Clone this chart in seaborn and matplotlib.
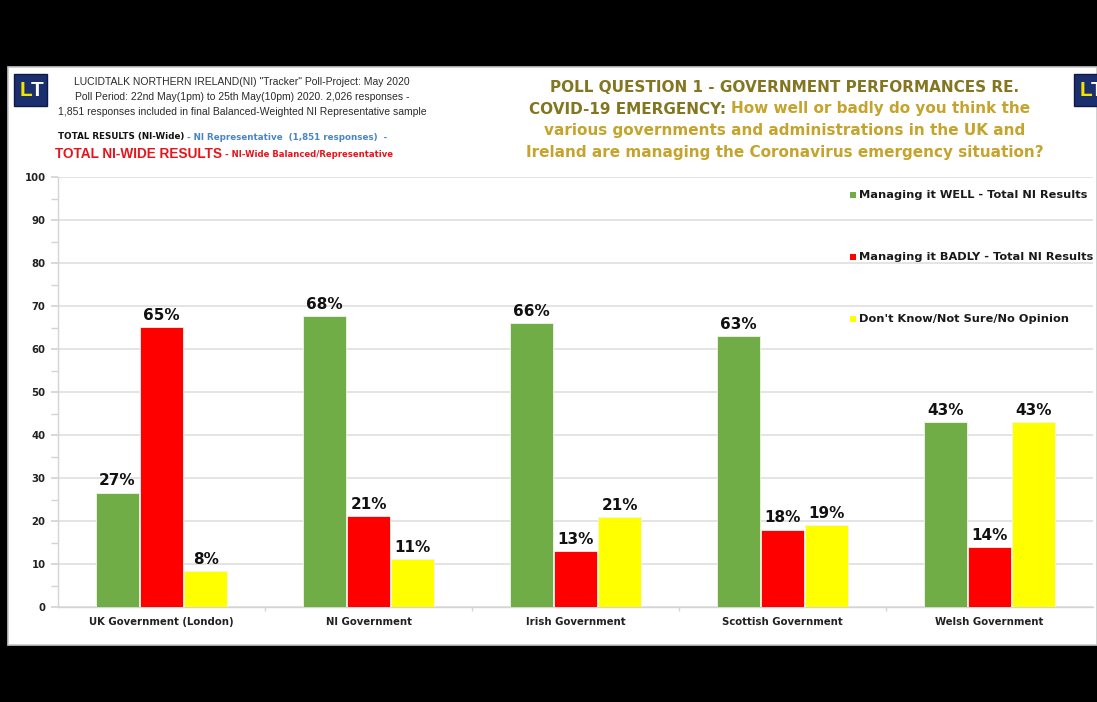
import matplotlib
matplotlib.use("Agg")
import matplotlib.pyplot as plt
from matplotlib.patches import Rectangle
import seaborn as sns
import pandas as pd
import numpy as np

categories = ["UK Government (London)", "NI Government", "Irish Government",
              "Scottish Government", "Welsh Government"]
series_names = ["Managing it WELL - Total NI Results",
                "Managing it BADLY - Total NI Results",
                "Don't Know/Not Sure/No Opinion"]
well = [26.6, 67.6, 66.0, 63.0, 43.0]
badly = [65.1, 21.1, 13.0, 18.0, 14.0]
dont_know = [8.3, 11.2, 21.0, 19.0, 43.0]
colors = ["#70AD47", "#FF0000", "#FFFF00"]

rows = []
for s, vals in zip(series_names, [well, badly, dont_know]):
    for c, v in zip(categories, vals):
        rows.append({"Government": c, "Response": s, "Value": v})
df = pd.DataFrame(rows)

sns.set_theme(style="white")
plt.rcParams['font.family'] = ['Liberation Sans', 'DejaVu Sans']
HEAVY = ['DejaVu Sans']

W, H = 1097, 702
fig = plt.figure(figsize=(W / 100, H / 100), dpi=100)
fig.patch.set_facecolor("black")

def fx(px):
    return px / W

def fy(py):
    return 1 - py / H

# white panel (behind everything)
panel = Rectangle((fx(8), fy(645)), fx(1097) - fx(8), fy(67) - fy(645),
                  transform=fig.transFigure, facecolor="white",
                  edgecolor="#C8C8C8", linewidth=1.2, zorder=-10)
fig.patches.append(panel)

# axes
ax = fig.add_axes([fx(58), fy(607), fx(1093) - fx(58), fy(177) - fy(607)])
ax.set_facecolor("none")
sns.barplot(data=df, x="Government", y="Value", hue="Response",
            palette=colors, ax=ax, width=0.64, gap=0.04, saturation=1,
            edgecolor="#F4F4E8", linewidth=0.6, legend=False, zorder=3)

ax.set_ylim(0, 100)
ax.set_xlim(-0.5, len(categories) - 0.5)
ax.set_yticks(np.arange(0, 101, 10))
ax.set_yticks(np.arange(5, 100, 10), minor=True)
ax.yaxis.grid(True, which="major", color="#DCDCDC", linewidth=1.1, zorder=0)
ax.set_axisbelow(True)
for side in ["top", "right"]:
    ax.spines[side].set_visible(False)
ax.spines["left"].set_color("#D4D4D4")
ax.spines["bottom"].set_color("#D4D4D4")
ax.spines["left"].set_linewidth(1.0)
ax.spines["bottom"].set_linewidth(1.0)
ax.tick_params(axis="y", which="both", left=True, length=5, color="#D4D4D4",
               pad=4)
ax.set_yticklabels([str(v) for v in range(0, 101, 10)], fontsize=7.3,
                   fontweight="bold", color="#222222", family=HEAVY)
ax.set_xticks(range(len(categories)))
ax.set_xticklabels(categories, fontsize=7.3, fontweight="bold",
                   color="#222222", family=HEAVY)
ax.set_xticks(np.arange(0.5, len(categories) - 0.5, 1), minor=True)
ax.tick_params(axis="x", which="major", bottom=False, length=0, pad=7)
ax.tick_params(axis="x", which="minor", bottom=True, length=3, color="#D4D4D4")
ax.set_xlabel("")
ax.set_ylabel("")

# value labels
for cont in ax.containers:
    labels = [f"{round(b.get_height()):d}%" for b in cont]
    ax.bar_label(cont, labels=labels, padding=3, fontsize=11,
                 fontweight="bold", color="#111111", family=HEAVY)

# logos
def logo(x0, y0, w, h):
    fig.patches.append(Rectangle((fx(x0), fy(y0 + h)), fx(w), h / H,
                                 transform=fig.transFigure,
                                 facecolor="#1B2E6E", edgecolor="#0E1A45",
                                 linewidth=1, zorder=1))
    fig.text(fx(x0 + w * 0.16), fy(y0 + h / 2), "L", color="#F2E600",
             fontsize=15, fontweight="bold", va="center", ha="left", zorder=2)
    fig.text(fx(x0 + w * 0.50), fy(y0 + h / 2), "T", color="white",
             fontsize=15, fontweight="bold", va="center", ha="left", zorder=2)

logo(14, 74, 33, 32)
logo(1074, 74, 33, 32)

# left header
hdr_c = 242
for py, line in [(82, 'LUCIDTALK NORTHERN IRELAND(NI) "Tracker" Poll-Project: May 2020'),
                 (97, 'Poll Period: 22nd May(1pm) to 25th May(10pm) 2020. 2,026 responses -'),
                 (112, '1,851 responses included in final Balanced-Weighted NI Representative sample')]:
    fig.text(fx(hdr_c), fy(py), line, ha="center", va="center", fontsize=7.5,
             color="#2A2A2A")

t1 = fig.text(fx(58), fy(137), "TOTAL RESULTS (NI-Wide)", ha="left", va="center",
              fontsize=6.3, fontweight="bold", color="#111111", family=HEAVY)
ax.annotate(" - NI Representative  (1,851 responses)  -", xy=(1, 0.5),
            xycoords=t1, va="center", ha="left", fontsize=6.3,
            fontweight="bold", color="#4A86C5", annotation_clip=False,
            family=HEAVY)

t2 = fig.text(fx(55), fy(154), "TOTAL NI-WIDE RESULTS", ha="left", va="center",
              fontsize=9.8, fontweight="bold", color="#E8141B")
ax.annotate(" - NI-Wide Balanced/Representative", xy=(1, 0.45), xycoords=t2,
            va="center", ha="left", fontsize=6.1, fontweight="bold",
            color="#E8141B", annotation_clip=False, family=HEAVY)

# right title
dark = "#847620"
gold = "#C4A42C"
tc = 785
TS = 11.0
fig.text(fx(tc), fy(87), "POLL QUESTION 1 - GOVERNMENT PERFORMANCES RE.",
         ha="center", va="center", fontsize=TS, fontweight="bold", color=dark,
         family=HEAVY)
l2 = fig.text(fx(529), fy(109), "COVID-19 EMERGENCY: ", ha="left", va="center",
              fontsize=TS, fontweight="bold", color=dark, family=HEAVY)
ax.annotate("How well or badly do you think the", xy=(1, 0.5), xycoords=l2,
            va="center", ha="left", fontsize=TS, fontweight="bold",
            color=gold, annotation_clip=False, family=HEAVY)
fig.text(fx(tc), fy(131), "various governments and administrations in the UK and",
         ha="center", va="center", fontsize=TS, fontweight="bold", color=gold,
         family=HEAVY)
fig.text(fx(tc), fy(153), "Ireland are managing the Coronavirus emergency situation?",
         ha="center", va="center", fontsize=TS, fontweight="bold", color=gold,
         family=HEAVY)

# legend (custom, inside plot area)
leg_y = [195, 257, 319]
for s, c, py in zip(series_names, colors, leg_y):
    fig.patches.append(Rectangle((fx(850), fy(py + 3)), fx(6), 6 / H,
                                 transform=fig.transFigure, facecolor=c,
                                 edgecolor="none", zorder=5))
    fig.text(fx(859), fy(py), s, ha="left", va="center", fontsize=8.2,
             fontweight="bold", color="#1A1A1A", zorder=5, family=HEAVY)

fig.savefig("out.png", dpi=100, facecolor=fig.get_facecolor())
